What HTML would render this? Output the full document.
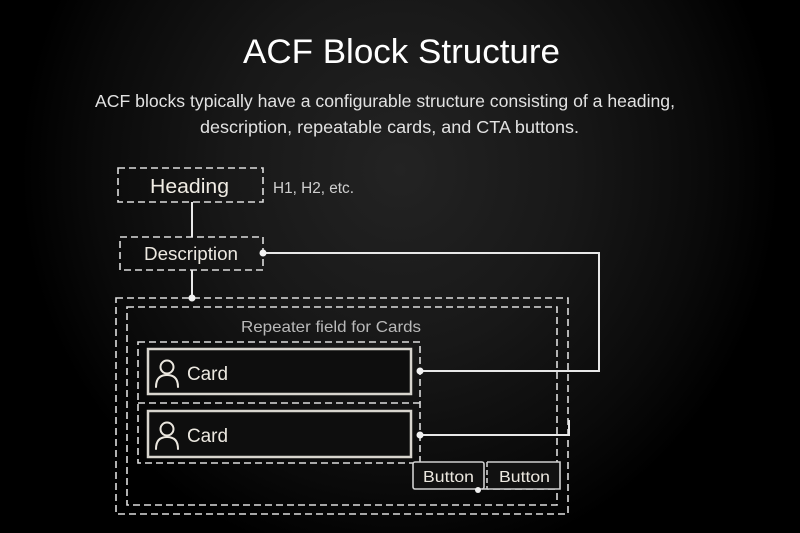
<!DOCTYPE html>
<html>
<head>
<meta charset="utf-8">
<style>
  html,body{margin:0;padding:0;}
  body{width:800px;height:533px;overflow:hidden;
    background:radial-gradient(ellipse 380px 400px at 400px 170px,#232323 0%,#181818 45%,#0a0a0a 80%,#000 100%);}
  svg{display:block;}
  text{font-family:"Liberation Sans",sans-serif;}
</style>
</head>
<body>
<svg width="800" height="533" viewBox="0 0 800 533" xmlns="http://www.w3.org/2000/svg">
  <!-- Title -->
  <text x="243" y="63" font-size="34" fill="#ffffff" textLength="317" lengthAdjust="spacingAndGlyphs">ACF Block Structure</text>
  <text x="95" y="107" font-size="17.5" fill="#e2e2e2" textLength="580" lengthAdjust="spacingAndGlyphs">ACF blocks typically have a configurable structure consisting of a heading,</text>
  <text x="200" y="133" font-size="17.5" fill="#e2e2e2" textLength="379" lengthAdjust="spacingAndGlyphs">description, repeatable cards, and CTA buttons.</text>

  <g fill="none" stroke="#dcdcdc" stroke-width="1.6" stroke-dasharray="7 4">
    <!-- Heading box -->
    <rect x="118" y="168" width="145" height="34"/>
    <!-- Description box -->
    <rect x="120" y="237" width="143" height="33"/>
    <!-- Outer container -->
    <rect x="116" y="298" width="452" height="216"/>
    <!-- Inner container -->
    <rect x="127" y="307" width="430" height="198"/>
    <!-- Cards container -->
    <rect x="138" y="342" width="282" height="121"/>
    <line x1="138" y1="403" x2="420" y2="403"/>
    <!-- dashed line under button 2 -->
    <line x1="482" y1="489" x2="557" y2="489"/>
  </g>

  <!-- Connectors -->
  <g fill="none" stroke="#e8e8e8" stroke-width="2">
    <line x1="192" y1="202" x2="192" y2="237"/>
    <line x1="192" y1="270" x2="192" y2="298"/>
    <polyline points="263,253 599,253 599,371 420,371"/>
    <polyline points="420,435 569,435 569,420"/>
  </g>
  <g fill="#f2f2f2">
    <circle cx="263" cy="253" r="3.5"/>
    <circle cx="192" cy="298" r="3.5"/>
    <circle cx="420" cy="371" r="3.5"/>
    <circle cx="420" cy="435" r="3.5"/>
  </g>

  <!-- Labels -->
  <text x="150" y="193" font-size="20" fill="#f0ece4" textLength="79" lengthAdjust="spacingAndGlyphs">Heading</text>
  <text x="273" y="193" font-size="15.5" fill="#cfcfcf" textLength="81" lengthAdjust="spacingAndGlyphs">H1, H2, etc.</text>
  <text x="144" y="260" font-size="18" fill="#ece8e0" textLength="94" lengthAdjust="spacingAndGlyphs">Description</text>
  <text x="241" y="332" font-size="16" fill="#b9b9b9" textLength="180" lengthAdjust="spacingAndGlyphs">Repeater field for Cards</text>

  <!-- Cards -->
  <g fill="#0e0e0e" stroke="#d8d5ce" stroke-width="2.5">
    <rect x="148" y="349" width="263" height="45"/>
    <rect x="148" y="411" width="263" height="46"/>
  </g>
  <g fill="none" stroke="#ece8e0" stroke-width="2" stroke-linecap="round">
    <circle cx="167" cy="367" r="6.5"/>
    <path d="M156 387 Q156 375 167 375 Q178 375 178 387"/>
    <circle cx="167" cy="429" r="6.5"/>
    <path d="M156 449 Q156 437 167 437 Q178 437 178 449"/>
  </g>
  <text x="187" y="380" font-size="19" fill="#ece8e0" textLength="41" lengthAdjust="spacingAndGlyphs">Card</text>
  <text x="187" y="442" font-size="19" fill="#ece8e0" textLength="41" lengthAdjust="spacingAndGlyphs">Card</text>

  <!-- Buttons -->
  <rect x="413" y="462" width="71" height="27" rx="2" fill="#111" stroke="#d0d0d0" stroke-width="1.6"/>
  <rect x="487" y="462" width="73" height="27" rx="2" fill="#111" stroke="none"/>
  <path d="M487 462 H560 V489 H487" fill="none" stroke="#d0d0d0" stroke-width="1.6"/>
  <line x1="487" y1="462" x2="487" y2="489" stroke="#d0d0d0" stroke-width="1.6" stroke-dasharray="5 3"/>
  <circle cx="478" cy="490" r="3" fill="#f0f0f0"/>
  <text x="423" y="482" font-size="16" fill="#ece8e0" textLength="51" lengthAdjust="spacingAndGlyphs">Button</text>
  <text x="499" y="482" font-size="16" fill="#ece8e0" textLength="51" lengthAdjust="spacingAndGlyphs">Button</text>
</svg>
</body>
</html>
